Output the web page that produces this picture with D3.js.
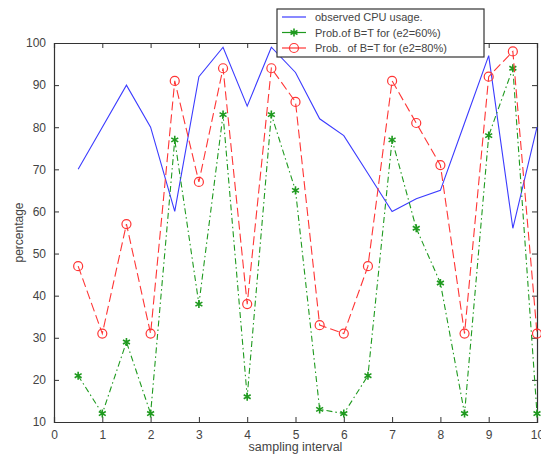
<!DOCTYPE html>
<html lang="en">
<head>
<meta charset="UTF-8">
<title>CPU usage vs probability</title>
<script src="https://d3js.org/d3.v7.min.js"></script>
<style>
    body{ margin: 0; background: white; }
    svg{ display: block; background: white; font-family: Arial, "Liberation Sans", sans-serif; }
    text{ fill: #444; }
</style>
</head>
<body>
<svg></svg>
<script>
    const width = 541, height = 457;

    // sampling intervals
    const samples = [0.5, 1, 1.5, 2, 2.5, 3, 3.5, 4, 4.5, 5, 5.5, 6, 6.5, 7, 7.5, 8, 8.5, 9, 9.5, 10];
    // observed CPU usage
    const cpuUsage = [70, 80, 90, 80, 60, 92, 99, 85, 99, 93, 82, 78, 69, 60, 63, 65, 81, 97, 56, 80];
    // Prob. of B=T, e2=60%
    const prob60 = [21, 12, 29, 12, 77, 38, 83, 16, 83, 65, 13, 12, 21, 77, 56, 43, 12, 78, 94, 12];
    // Prob. of B=T, e2=80%
    const prob80 = [47, 31, 57, 31, 91, 67, 94, 38, 94, 86, 33, 31, 47, 91, 81, 71, 31, 92, 98, 31];

    const xTicks = [0, 1, 2, 3, 4, 5, 6, 7, 8, 9, 10];
    const yTicks = [10, 20, 30, 40, 50, 60, 70, 80, 90, 100];
    const legendLabels = ['observed CPU usage.', 'Prob.of B=T for (e2=60%)', 'Prob.  of B=T for (e2=80%)'];

    const margin = {left: 54, right: 4, top: 43, bottom: 35};
    const svg = d3.select('svg').attr('width', width).attr('height', height);

    const x = d3.scaleLinear().domain([0, 10]).range([margin.left, width - margin.right]);
    const y = d3.scaleLinear().domain([10, 100]).range([height - margin.bottom, margin.top]);

    /* axes box with inward ticks on all sides */
    const tickLen = 5;
    const axisColor = '#333';
    svg.append('g').attr('transform', `translate(0,${y(10)})`)
        .call(d3.axisBottom(x).tickValues(xTicks).tickSize(-tickLen).tickPadding(8).tickFormat(d3.format('d')));
    svg.append('g').attr('transform', `translate(0,${y(100)})`)
        .call(d3.axisTop(x).tickValues(xTicks).tickSize(-tickLen).tickFormat(''));
    svg.append('g').attr('transform', `translate(${x(0)},0)`)
        .call(d3.axisLeft(y).tickValues(yTicks).tickSize(-tickLen).tickPadding(8));
    svg.append('g').attr('transform', `translate(${x(10)},0)`)
        .call(d3.axisRight(y).tickValues(yTicks).tickSize(-tickLen).tickFormat(''));

    svg.selectAll('.domain').attr('stroke', axisColor).attr('stroke-width', 1.2);
    svg.selectAll('.tick line').attr('stroke', axisColor);
    svg.selectAll('.tick text').attr('font-size', 12).attr('fill', '#555').attr('font-family', 'Arial, "Liberation Sans", sans-serif');

    /* axis titles */
    svg.append('text')
        .attr('x', (x(0) + x(10)) / 2).attr('y', 451)
        .attr('text-anchor', 'middle').attr('font-size', 12.5)
        .text('sampling interval');
    svg.append('text')
        .attr('transform', `translate(23,${(y(10) + y(100)) / 2}) rotate(-90)`)
        .attr('text-anchor', 'middle').attr('font-size', 12)
        .text('percentage');

    const line = d3.line().x(d => x(d[0])).y(d => y(d[1]));

    const series = [
        {values: cpuUsage, color: '#3b3bff', dash: null, marker: null},
        {values: prob60, color: '#1f9a1f', dash: '6,3,1.5,3', marker: 'star'},
        {values: prob80, color: '#ff3535', dash: '9,4', marker: 'circle'}
    ];

    function drawMarker(sel, type, color){
        if(type === 'circle'){
            sel.append('circle').attr('r', 4.5)
                .attr('fill', 'none').attr('stroke', color).attr('stroke-width', 1.2);
        }else if(type === 'star'){
            sel.append('path').attr('d', d3.symbol(d3.symbolAsterisk, 45)())
                .attr('fill', 'none').attr('stroke', color).attr('stroke-width', 1.6);
        }
    }

    series.forEach(s => {
        const pts = samples.map((d, i) => [d, s.values[i]]);
        svg.append('path').datum(pts)
            .attr('d', line)
            .attr('fill', 'none')
            .attr('stroke', s.color)
            .attr('stroke-width', 1.1)
            .attr('stroke-dasharray', s.dash);
        if(s.marker){
            svg.append('g').selectAll('g')
                .data(pts).enter().append('g')
                .attr('transform', d => `translate(${x(d[0])},${y(d[1])})`)
                .each(function(){ drawMarker(d3.select(this), s.marker, s.color); });
        }
    });

    /* legend */
    const legend = svg.append('g');
    legend.append('rect')
        .attr('x', 277).attr('y', 9).attr('width', 207).attr('height', 48)
        .attr('fill', 'white').attr('stroke', axisColor).attr('stroke-width', 1.2);
    const rowY = [17, 32.5, 48];
    series.forEach((s, i) => {
        legend.append('line')
            .attr('x1', 282).attr('x2', 306).attr('y1', rowY[i]).attr('y2', rowY[i])
            .attr('stroke', s.color).attr('stroke-width', 1.2);
        if(s.marker){
            drawMarker(legend.append('g').attr('transform', `translate(294,${rowY[i]})`), s.marker, s.color);
        }
        legend.append('text')
            .attr('x', 315).attr('y', rowY[i] + 4)
            .attr('font-size', 11)
            .style('white-space', 'pre')
            .text(legendLabels[i]);
    });
</script>
</body>
</html>
